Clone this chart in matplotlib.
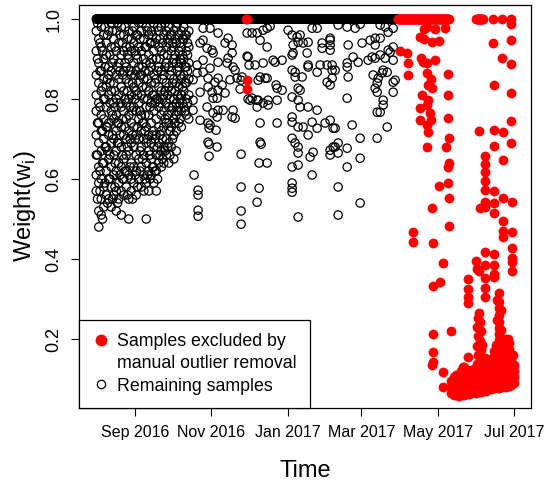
import numpy as np
import pandas as pd
import matplotlib
matplotlib.use("Agg")
import matplotlib.pyplot as plt
from matplotlib.lines import Line2D

plt.rcParams['font.family'] = ['Liberation Sans', 'DejaVu Sans']

# time is stored as days since 2016-08-01
base = pd.Timestamp('2016-08-01')

# samples with weight 1.0 (the solid band at the top)
black_band = (0, 241)
red_bands = [(241, 282), (304, 309)]

# dense cloud of remaining samples, Aug - mid Oct 2016 (one column per day)
dense_days = [0, 2, 4, 6, 8, 10, 12, 14, 16, 18, 20, 22, 24, 26, 28, 30, 32, 34, 36,
              38, 40, 42, 44, 46, 48, 50, 52, 54, 56, 58, 60, 62, 64, 66, 68, 70, 72, 74]
dense_weights = [
    [.97, .92, .86, .81, .77, .71, .66, .61, .57],
    [.95, .89, .84, .79, .74, .69, .63, .59, .52, .48],
    [.98, .93, .87, .82, .76, .72, .67, .60, .55, .51],
    [.96, .90, .85, .80, .75, .70, .64, .58, .53],
    [.94, .91, .83, .78, .73, .68, .62, .56],
    [.97, .88, .86, .81, .74, .71, .65, .60, .55],
    [.99, .93, .87, .82, .77, .69, .63, .58, .53],
    [.95, .90, .84, .79, .75, .70, .66, .61, .56],
    [.97, .92, .86, .80, .76, .72, .67, .62, .57, .52],
    [.94, .89, .85, .81, .74, .69, .64, .59, .55],
    [.98, .91, .83, .78, .73, .68, .63, .57, .51],
    [.96, .92, .87, .82, .77, .71, .65, .60, .56],
    [.93, .88, .85, .79, .75, .70, .66, .62, .58],
    [.97, .90, .84, .80, .76, .72, .67, .61, .55, .50],
    [.95, .92, .86, .81, .74, .69, .64, .60, .57],
    [.98, .94, .89, .83, .78, .73, .68, .63, .59],
    [.96, .91, .87, .82, .77, .71, .66, .62, .56],
    [.99, .93, .88, .84, .79, .75, .70, .65, .60],
    [.97, .92, .86, .81, .76, .72, .68, .63, .58],
    [.95, .90, .85, .80, .74, .70, .66, .61, .57],
    [.98, .93, .89, .83, .78, .73, .69, .64, .59, .50],
    [.96, .91, .87, .82, .76, .71, .67, .62, .57],
    [.97, .94, .88, .84, .79, .74, .69, .65, .61],
    [.99, .92, .86, .81, .77, .72, .68, .63, .59],
    [.95, .90, .85, .80, .75, .71, .66, .62, .57],
    [.97, .93, .88, .83, .78, .73, .69, .64],
    [.98, .92, .87, .82, .76, .72, .67, .63],
    [.96, .91, .86, .81, .77, .73, .68, .64],
    [.97, .93, .89, .84, .79, .74, .70, .66],
    [.98, .94, .88, .83, .78, .74, .69, .64],
    [.96, .92, .87, .82, .77, .73, .68],
    [.97, .93, .90, .85, .80, .75, .71, .65],
    [.98, .94, .89, .84, .79, .76, .72, .67],
    [.96, .92, .88, .83, .78, .74],
    [.97, .93, .89, .85, .81, .77, .73],
    [.98, .95, .90, .86, .82, .78],
    [.96, .92, .88, .84, .80, .76],
    [.97, .93, .89, .85, .81, .75],
]
dense_days_2 = [1, 3, 5, 7, 9, 11, 13, 15, 17, 19, 21, 23, 25, 27, 29, 31, 33, 35, 37,
                39, 41, 43, 45, 47, 49, 51, 53, 55, 57, 59, 61, 63, 65, 67, 69, 71, 73]
dense_weights_2 = [
    [.99, .90, .74, .66, .55],
    [.94, .87, .78, .62, .57],
    [.92, .83, .72, .64, .50],
    [.98, .88, .80, .68, .59],
    [.96, .85, .73, .67, .54],
    [.91, .84, .79, .66, .60],
    [.97, .89, .76, .71, .55],
    [.93, .82, .78, .64, .58],
    [.99, .88, .74, .69, .54],
    [.96, .87, .79, .71, .61],
    [.94, .86, .75, .66, .60],
    [.98, .89, .80, .73, .62],
    [.95, .91, .82, .68, .56],
    [.93, .87, .78, .70, .63],
    [.97, .84, .77, .71, .55],
    [.92, .86, .80, .70, .61],
    [.96, .90, .81, .73, .58],
    [.95, .86, .77, .67, .62],
    [.99, .88, .83, .74, .65],
    [.93, .87, .76, .72, .60],
    [.97, .85, .80, .70, .61],
    [.94, .89, .78, .66, .60],
    [.96, .90, .81, .71, .63],
    [.94, .84, .79, .70, .62],
    [.98, .87, .80, .68, .60],
    [.95, .90, .79, .71, .66],
    [.94, .85, .80, .70, .65],
    [.99, .88, .82, .75, .67],
    [.95, .91, .81, .76, .68],
    [.96, .86, .80, .72, .66],
    [.94, .89, .84, .78, .70],
    [.95, .91, .82, .74],
    [.99, .87, .81, .77],
    [.94, .90, .86, .80, .75],
    [.95, .91, .83, .79],
    [.96, .88, .84, .77],
    [.94, .91, .87, .79],
]

# sparser remaining samples, mid Oct 2016 - Apr 2017
black_day = [
    85.4, 91, 97.4, 105.4, 103, 108.6, 85.4, 83, 88.6, 92.6,
    93.4, 108.6, 105.4, 97.4, 104.6, 85.4, 80.6, 91, 109.4, 80.6,
    85.4, 111, 77.4, 89.4, 95, 97.4, 89.4, 100.6, 107, 112.6,
    116.6, 115, 83, 92.6, 97.4, 103, 123, 93.4, 77.4, 88.6,
    97.4, 101.4, 109.4, 77.4, 93.4, 108.6, 91, 83, 96.6, 96.6,
    111, 89.4, 90.2, 95.8, 89.4, 90.2, 96.6, 90.2, 115.8, 78.2,
    81.4, 81.4, 81.4, 81.4, 115.8, 115.8, 115.8, 120.6, 122.2, 115.8,
    120.6, 124.6, 128.6, 131, 136.6, 131, 136.6, 128.6, 133.4, 137.4,
    131, 131, 131.8, 130.2, 136.6, 130.2, 128.6, 143.8, 144.6, 141.4,
    133.4, 136.6, 139, 153.4, 156.6, 160.6, 161.4, 163, 165.4, 169.4,
    157.4, 168.6, 157.4, 156.6, 172.6, 176.6, 180.6, 187, 187, 180.6,
    187, 121.4, 127, 133.4, 143, 148.6, 156.6, 159, 159, 164.6,
    169.4, 169.4, 176.6, 179, 184.6, 188.6, 188.6, 184.6, 187, 188.6,
    129.4, 135, 144.6, 148.6, 163, 161.4, 121.4, 124.6, 129.4, 128.6,
    137.4, 144.6, 156.6, 161.4, 163, 169.4, 176.6, 156.6, 156.6, 161.4,
    165.4, 172.6, 176.6, 183, 187, 189.4, 156.6, 159, 161.4, 169.4,
    161.4, 171, 173.4, 187, 187, 189.4, 156.6, 161.4, 172.6, 156.6,
    156.6, 156.6, 161.4, 193.4, 200.6, 207, 211, 227, 231, 233.4,
    237.4, 187, 201.4, 212.6, 219, 223, 227, 223, 237.4, 233.4,
    235, 205.4, 209.4, 217.4, 220.6, 223, 227, 231, 237.4, 191,
    200.6, 200.6, 229.4, 232.6, 228.6, 201.4, 221.4, 225.4, 237.4, 224.6,
    223, 224.6, 237.4, 200.6, 229.4, 229.4, 224.6, 227, 191, 204.6,
    232.6, 224.6, 211, 191, 193.4, 193.4, 200.6, 211, 200.6, 193.4,
    211, 193.4, 239,
]
black_w = [
    .977, .977, .965, .952, .94, .935, .947, .94, .927, .922,
    .915, .915, .902, .892, .89, .897, .885, .877, .88, .865,
    .867, .872, .848, .852, .842, .852, .83, .835, .848, .852,
    .855, .825, .817, .817, .822, .815, .797, .802, .797, .78,
    .772, .772, .772, .772, .765, .755, .735, .747, .802, .755,
    .752, .74, .727, .722, .692, .687, .68, .657, .662, .61,
    .572, .56, .522, .507, .58, .52, .487, .907, .885, .847,
    .965, .965, .965, .947, .93, .855, .852, .797, .79, .797,
    .74, .692, .687, .64, .64, .577, .542, .835, .74, .897,
    .972, .977, .982, .972, .96, .955, .942, .96, .94, .942,
    .935, .915, .915, .91, .977, .977, .94, .947, .935, .927,
    .922, .905, .885, .89, .892, .897, .872, .867, .855, .855,
    .885, .88, .867, .885, .885, .885, .872, .842, .835, .852,
    .847, .852, .827, .822, .822, .827, .8, .802, .797, .78,
    .785, .797, .805, .797, .78, .78, .772, .755, .742, .73,
    .73, .742, .727, .74, .747, .727, .702, .69, .68, .71,
    .665, .655, .667, .672, .66, .68, .63, .635, .61, .59,
    .577, .567, .505, .985, .98, .977, .987, .985, .98, .967,
    .977, .952, .935, .94, .947, .952, .952, .935, .93, .922,
    .917, .905, .892, .897, .905, .902, .91, .902, .897, .872,
    .89, .88, .872, .867, .865, .855, .86, .852, .842, .84,
    .827, .817, .817, .802, .797, .785, .767, .767, .727, .735,
    .73, .702, .702, .68, .69, .665, .677, .652, .63, .58,
    .54, .51, .847,
]

# samples excluded by manual outlier removal
red_day = [
    119.5, 120.5, 120.6, 120.6, 317.4, 324.6, 331.8, 332, 264.6, 271,
    279, 262.2, 259, 262.2, 268.6, 274.2, 317.4, 332, 243, 248.6,
    259.8, 261.4, 264.6, 271, 249.4, 324.6, 332, 249.4, 264.6, 281.4,
    267.8, 265.4, 268.6, 318.2, 260.6, 281.4, 332, 265.4, 264.6, 259,
    267, 259, 267.8, 281.4, 332, 264.6, 265.4, 306.2, 318.2, 325.4,
    282.2, 264.6, 279.8, 318.2, 332, 311, 325.4, 282.2, 281.4, 311,
    311, 281.4, 274.2, 311, 311, 318.2, 282.2, 325.4, 268.6, 311,
    307, 311, 318.2, 332.6, 318.2, 325.4, 325.4, 325.4, 332.6, 253.4,
    253.4, 269.4, 282.2, 332.6, 332.6, 332.6, 332.6, 311, 318.2, 303.8,
    311, 318.2, 306.2, 318.2, 318.2, 277.4, 297.4, 311, 297.4, 311,
    275, 269.4, 297.4, 297.4, 311, 322.2, 322.2, 322.2, 322.2, 322.2,
    322.2, 322.2, 306.2, 305.4, 307, 304.6, 307.8, 305.4, 307, 304.6,
    307.8, 305.4, 307, 304.6, 308.6, 283.8, 269.4, 269.4, 269.4, 268.6,
    277.4, 277.4, 297.4, 311, 293.4, 333.4, 329.4, 320.6, 323.8, 320.6,
    323.8, 304.6,
]
red_w = [
    1.0, 1.0, .848, .825, 1.0, 1.0, 1.0, .987, .98, .975,
    .977, .975, .955, .95, .942, .945, .94, .947, .92, .915,
    .902, .892, .89, .897, .89, .902, .887, .86, .865, .862,
    .85, .835, .827, .835, .81, .81, .815, .797, .785, .777,
    .765, .747, .747, .752, .745, .735, .717, .72, .722, .717,
    .702, .68, .68, .682, .69, .657, .647, .64, .63, .637,
    .617, .59, .582, .595, .572, .57, .552, .552, .527, .542,
    .527, .53, .54, .542, .515, .495, .47, .455, .467, .467,
    .442, .44, .482, .427, .402, .392, .37, .417, .412, .395,
    .385, .385, .37, .362, .355, .39, .35, .352, .325, .327,
    .342, .332, .305, .29, .305, .315, .292, .277, .26, .242,
    .227, .212, .265, .252, .242, .23, .22, .207, .195, .182,
    .172, .16, .147, .137, .185, .22, .212, .167, .142, .135,
    .117, .08, .155, .152, .13, .16, .2, .297, .272, .247,
    .222, .375,
]

# the dense low-weight cloud of excluded samples, May - Jun 2017
blob_days = [284, 286, 288, 290, 292, 294, 296, 298, 300, 302, 304, 306, 308,
             310, 312, 314, 316, 318, 320, 322, 324, 326, 328, 330, 332, 334]
blob_weights = [
    [.065, .08, .095],
    [.06, .075, .09, .105],
    [.06, .072, .085, .10, .11],
    [.058, .07, .085, .10, .112],
    [.062, .078, .092, .108, .12],
    [.06, .075, .09, .105, .12, .13],
    [.065, .08, .095, .11, .122],
    [.062, .077, .092, .107, .12],
    [.065, .08, .095, .11, .123],
    [.068, .083, .098, .113, .125],
    [.066, .08, .095, .11, .125],
    [.07, .085, .10, .115, .127],
    [.068, .083, .098, .113, .128],
    [.072, .087, .102, .117, .13],
    [.07, .085, .10, .115, .125],
    [.074, .09, .105, .12, .13],
    [.075, .09, .105, .12, .135, .15],
    [.078, .093, .108, .123, .14, .155, .17],
    [.08, .095, .11, .125, .14, .155, .17, .185],
    [.078, .093, .108, .123, .138, .153, .168, .183, .198],
    [.08, .095, .11, .125, .14, .155, .17, .182],
    [.082, .097, .112, .127, .142, .157, .172],
    [.08, .095, .11, .125, .14, .155, .17, .185, .20],
    [.083, .098, .113, .128, .143, .158, .175, .19],
    [.085, .10, .115, .13, .145, .16],
    [.09, .105, .12, .135],
]

tick_dates = ['2016-09-01', '2016-11-01', '2017-01-01', '2017-03-01', '2017-05-01', '2017-07-01']
tick_labels = ['Sep 2016', 'Nov 2016', 'Jan 2017', 'Mar 2017', 'May 2017', 'Jul 2017']


def to_dates(days):
    return base + pd.to_timedelta(np.asarray(days, dtype=float), unit='D')


def flatten(days, weights):
    xs = [d for d, ws in zip(days, weights) for _ in ws]
    ys = [w for ws in weights for w in ws]
    return xs, ys


d_x, d_y = flatten(dense_days + dense_days_2, dense_weights + dense_weights_2)
b_x, b_y = flatten(blob_days, blob_weights)

band_b = np.arange(black_band[0], black_band[1], 0.5)
band_r = np.concatenate([np.arange(a, b + 0.1, 0.5) for a, b in red_bands])

fig = plt.figure(figsize=(5.6, 4.83), dpi=100)
ax = fig.add_axes([79 / 560, 1 - 408 / 483, 452 / 560, 403 / 483])

open_kw = dict(s=36, facecolors='none', edgecolors='black', linewidths=0.9)
fill_kw = dict(s=50, color='red', linewidths=0)

ax.scatter(to_dates(band_b), np.ones(len(band_b)), **open_kw)
ax.scatter(to_dates(d_x), d_y, **open_kw)
ax.scatter(to_dates(black_day), black_w, **open_kw)

ax.scatter(to_dates(band_r), np.ones(len(band_r)), **fill_kw)
ax.scatter(to_dates(red_day), red_w, **fill_kw)
ax.scatter(to_dates(b_x), b_y, **fill_kw)

ax.set_xlim(to_dates([-13.8, 347.6]))
ax.set_ylim(0.0275, 1.035)

ax.set_xticks(pd.to_datetime(tick_dates))
ax.set_xticklabels(tick_labels, fontsize=11.5)
ax.set_yticks([0.2, 0.4, 0.6, 0.8, 1.0])
ax.set_yticklabels(['0.2', '0.4', '0.6', '0.8', '1.0'], fontsize=13, rotation=90, va='center')
ax.tick_params(axis='x', length=6, width=0.8, pad=6)
ax.tick_params(axis='y', length=6, width=0.8, pad=6)
for sp in ax.spines.values():
    sp.set_linewidth(0.9)

ax.set_xlabel('Time', fontsize=17)
ax.set_ylabel(r'Weight(w$_{\mathregular{i}}$)', fontsize=17)
ax.xaxis.set_label_coords(0.5, -0.13)
ax.yaxis.set_label_coords(-0.09, 0.5)

handles = [
    Line2D([], [], marker='o', color='red', linestyle='none', markersize=7.5),
    Line2D([], [], linestyle='none'),
    Line2D([], [], marker='o', markerfacecolor='none', markeredgecolor='black',
           linestyle='none', markersize=6, markeredgewidth=0.9),
]
labels = ['Samples excluded by', 'manual outlier removal', 'Remaining samples']
leg = ax.legend(handles, labels, loc='lower left', bbox_to_anchor=(0, 0), borderaxespad=0,
                frameon=True, fancybox=False, edgecolor='black', framealpha=1,
                fontsize=12.8, handlelength=1.0, handletextpad=0.4,
                labelspacing=0.3, borderpad=0.75)
leg.get_frame().set_linewidth(0.9)

fig.savefig('out.png', dpi=100)
